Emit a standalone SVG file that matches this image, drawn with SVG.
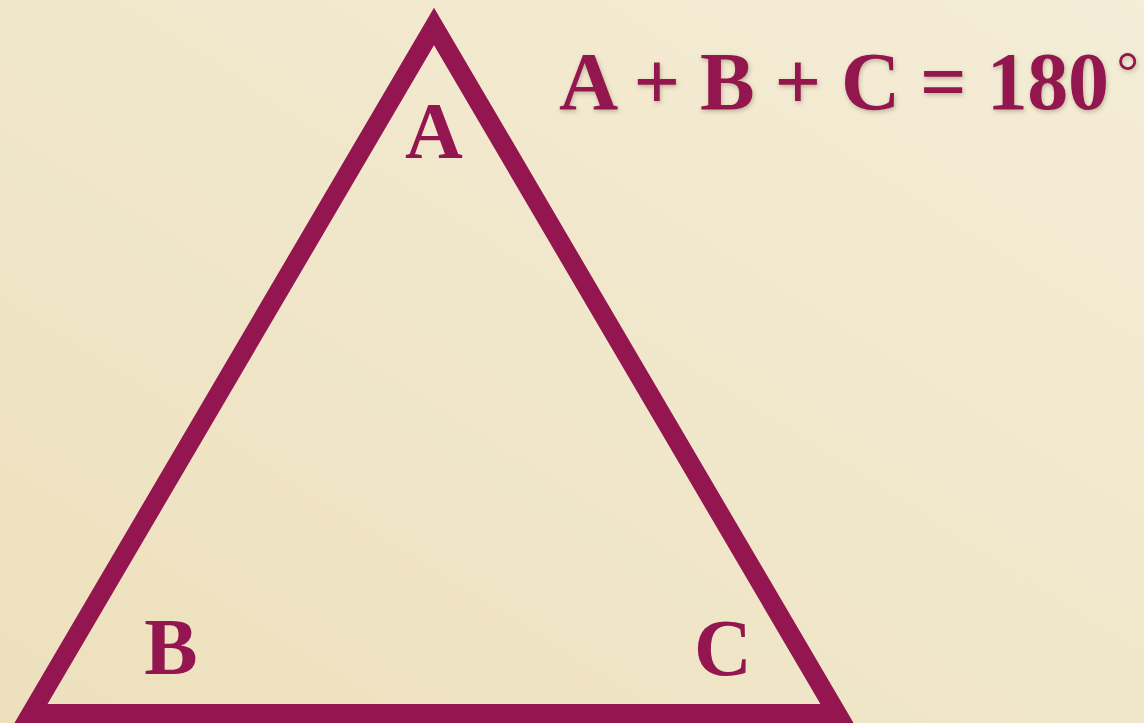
<svg xmlns="http://www.w3.org/2000/svg" width="1144" height="723" viewBox="0 0 1144 723">
  <defs>
    <linearGradient id="bg" x1="0" y1="1" x2="1" y2="0">
      <stop offset="0" stop-color="#EDE0BD"/>
      <stop offset="1" stop-color="#F4EDD7"/>
    </linearGradient>
    <filter id="shadow" x="-10%" y="-20%" width="120%" height="150%">
      <feDropShadow dx="1" dy="2" stdDeviation="2" flood-color="#5a4a2a" flood-opacity="0.35"/>
    </filter>
  </defs>
  <style>
    .lbl { font-family: "Liberation Serif", "DejaVu Serif", serif; font-weight: bold; fill: #941650; font-size: 80px; }
    .eq { font-size: 82px; }
    .deg { font-weight: normal; font-size: 56px; }
    .tri { fill: none; stroke: #941650; stroke-width: 19; stroke-linejoin: miter; stroke-miterlimit: 10; }
  </style>
  <rect width="1144" height="723" fill="url(#bg)"/>
  <g id="triangle">
    <polygon class="tri" points="434,26.5 31,713.5 837,713.5"/>
  </g>
  <g id="label-A"><text class="lbl" x="434" y="158" text-anchor="middle">A</text></g>
  <g id="label-B"><text class="lbl" x="171" y="674" text-anchor="middle">B</text></g>
  <g id="label-C"><text class="lbl" x="723" y="675" text-anchor="middle">C</text></g>
  <g id="equation" filter="url(#shadow)">
    <text class="lbl eq" x="559" y="109" textLength="580" lengthAdjust="spacing">A + B + C = 180<tspan class="deg" dx="8" dy="-18">°</tspan></text>
  </g>
</svg>
